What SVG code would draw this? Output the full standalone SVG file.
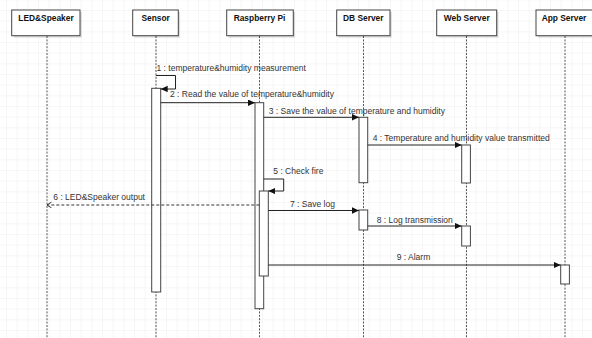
<svg xmlns="http://www.w3.org/2000/svg" width="592" height="338" viewBox="0 0 592 338">
<style>
.hdr{fill:#fff;stroke:#444;stroke-width:1}
.shd{fill:#000;opacity:0.13}
.htxt{font-family:"Liberation Sans",Arial,sans-serif;font-size:8.4px;font-weight:bold;fill:#111;text-anchor:middle}
.life{stroke:#555;stroke-width:1;stroke-dasharray:2 1.4;fill:none}
.bar{fill:#fff;stroke:#444;stroke-width:1}
.msg{stroke:#222;stroke-width:1;fill:none}
.ret{stroke:#333;stroke-width:1;fill:none;stroke-dasharray:3 2}
.lbl{font-family:"Liberation Sans",Arial,sans-serif;font-size:8.5px;fill:#333}
</style>
<defs>
<pattern id="grid" patternUnits="userSpaceOnUse" x="6" y="10" width="10.667" height="10.667">
<path d="M10.667 0 L0 0 0 10.667" fill="none" stroke="#eeeeee" stroke-width="1"/>
</pattern>
<marker id="blk" markerUnits="userSpaceOnUse" markerWidth="10" markerHeight="10" refX="7" refY="3.2" orient="auto">
<path d="M0 0 L7 3.2 L0 6.4 Z" fill="#111"/>
</marker>
<marker id="opn" markerUnits="userSpaceOnUse" markerWidth="10" markerHeight="10" refX="5" refY="3.2" orient="auto">
<path d="M0.5 0.3 L5 3.2 L0.5 6.1" fill="none" stroke="#333" stroke-width="1"/>
</marker>
</defs>
<rect width="592" height="338" fill="#fff"/>
<rect width="592" height="338" fill="url(#grid)"/>

<g id="lifelines">
<path class="life" d="M47 36 V338"/>
<path class="life" d="M156 36 V338"/>
<path class="life" d="M259.5 36 V338"/>
<path class="life" d="M363.5 36 V338"/>
<path class="life" d="M466.5 36 V338"/>
<path class="life" d="M565 36 V338"/>
</g>

<g id="n-led">
<rect class="shd" x="13.5" y="12" width="68.3" height="25.7"/>
<rect class="hdr" x="11.7" y="10" width="68.3" height="25.7"/>
<text class="htxt" x="46" y="21">LED&amp;Speaker</text>
</g>
<g id="n-sensor">
<rect class="shd" x="134.5" y="12" width="45.6" height="25.7"/>
<rect class="hdr" x="132.7" y="10" width="45.6" height="25.7"/>
<text class="htxt" x="155.7" y="21">Sensor</text>
</g>
<g id="n-rpi">
<rect class="shd" x="228.5" y="12" width="66.6" height="25.7"/>
<rect class="hdr" x="226.7" y="10" width="66.6" height="25.7"/>
<text class="htxt" x="259.5" y="21">Raspberry Pi</text>
</g>
<g id="n-db">
<rect class="shd" x="338.5" y="12" width="53.3" height="25.7"/>
<rect class="hdr" x="336.7" y="10" width="53.3" height="25.7"/>
<text class="htxt" x="363.3" y="21">DB Server</text>
</g>
<g id="n-web">
<rect class="shd" x="438.5" y="12" width="60" height="25.7"/>
<rect class="hdr" x="436.7" y="10" width="60" height="25.7"/>
<text class="htxt" x="466.7" y="21">Web Server</text>
</g>
<g id="n-app">
<rect class="shd" x="537.8" y="12" width="60" height="25.7"/>
<rect class="hdr" x="536" y="10" width="60" height="25.7"/>
<text class="htxt" x="564" y="21">App Server</text>
</g>

<g id="activations">
<rect class="bar" x="151.7" y="88.3" width="9" height="203.7"/>
<rect class="bar" x="255" y="102.7" width="8.7" height="206"/>
<rect class="bar" x="259.3" y="191" width="9" height="85"/>
<rect class="bar" x="359" y="117.3" width="8.7" height="65.4"/>
<rect class="bar" x="461.7" y="145" width="8.7" height="38"/>
<rect class="bar" x="359" y="210" width="8.7" height="20"/>
<rect class="bar" x="461.7" y="226" width="8.7" height="20"/>
<rect class="bar" x="560.7" y="265" width="8.7" height="19"/>
</g>

<g id="connectors">
<path class="msg" d="M156 75.5 H175.5 V89 H160.7" marker-end="url(#blk)"/>
<path class="msg" d="M160.7 102.7 H255" marker-end="url(#blk)"/>
<path class="msg" d="M263.7 117.3 H359" marker-end="url(#blk)"/>
<path class="msg" d="M367.7 145 H461.7" marker-end="url(#blk)"/>
<path class="msg" d="M263.7 179 H283.7 V191 H268.3" marker-end="url(#blk)"/>
<path class="ret" d="M259.3 205 H47" marker-end="url(#opn)"/>
<path class="msg" d="M268.3 210.5 H359" marker-end="url(#blk)"/>
<path class="msg" d="M367.7 226 H461.7" marker-end="url(#blk)"/>
<path class="msg" d="M268.3 265 H560.7" marker-end="url(#blk)"/>
</g>

<g id="labels">
<text class="lbl" x="156.5" y="70.5">1 : temperature&amp;humidity measurement</text>
<text class="lbl" x="170" y="97">2 : Read the value of temperature&amp;humidity</text>
<text class="lbl" x="268.7" y="114">3 : Save the value of temperature and humidity</text>
<text class="lbl" x="372.7" y="141">4 : Temperature and humidity value transmitted</text>
<text class="lbl" x="273.3" y="174">5 : Check fire</text>
<text class="lbl" x="53.3" y="200">6 : LED&amp;Speaker output</text>
<text class="lbl" x="290" y="206.5">7 : Save log</text>
<text class="lbl" x="376.7" y="222.5">8 : Log transmission</text>
<text class="lbl" x="413.5" y="260" text-anchor="middle">9 : Alarm</text>
</g>
</svg>
